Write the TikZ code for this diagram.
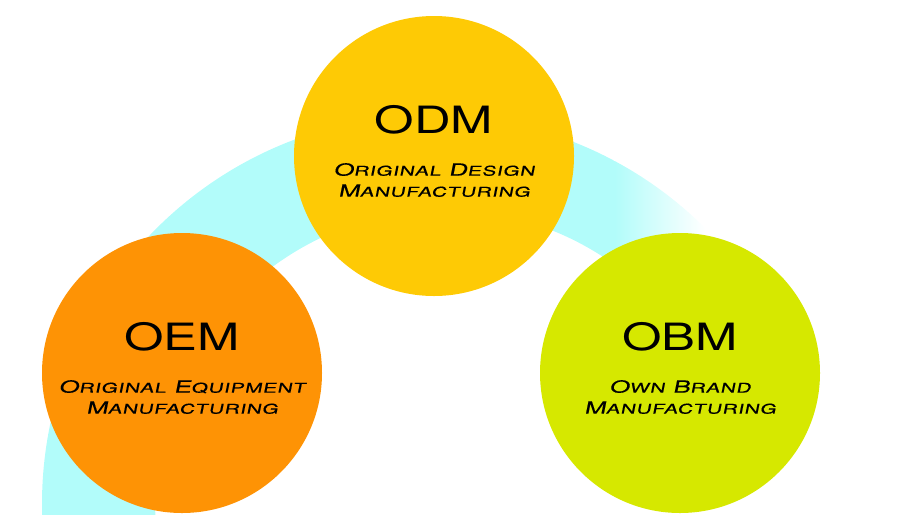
\documentclass[tikz,border=0pt]{standalone}
\usepackage{fontspec}
\usepackage{tikz}
\usetikzlibrary{positioning}
\definecolor{bandcyan}{RGB}{178,252,250}
\definecolor{oemorange}{RGB}{254,147,5}
\definecolor{odmyellow}{RGB}{254,202,5}
\definecolor{obmlime}{RGB}{214,232,0}
\newfontfamily\titlefont[FakeStretch=1.35]{TeX Gyre Heros}
\newfontfamily\subtitlefont[FakeStretch=1.55,FakeSlant=0.2,FakeBold=0.4,LetterSpace=5]{TeX Gyre Heros}
\newcommand{\capword}[2]{#1{\fontsize{13.4}{21}\selectfont #2}}

\begin{document}
\begin{tikzpicture}[x=1pt,y=-1pt,
  bubble/.style={circle,minimum size=280pt,inner sep=0pt},
  bubbletitle/.style={font=\titlefont\fontsize{37.6}{40}\selectfont,inner sep=0pt},
  bubbletext/.style={font=\subtitlefont\fontsize{16.7}{21}\selectfont,align=center,inner sep=0pt}]
\useasboundingbox (0,0) rectangle (915,515);
\clip (0,0) rectangle (915,515);
\pgfmathsetmacro{\titleshift}{36}
\pgfmathsetmacro{\textshift}{24}
\begin{scope}[even odd rule]
\clip (431,504) circle (389pt) (445,500) circle (290pt);
\fill[bandcyan] (0,0) rectangle (615,515);
\shade[left color=bandcyan,right color=white] (615,0) rectangle (705,515);
\end{scope}
\node[bubble,fill=oemorange] (oem) at (182,373) {};
\node[bubble,fill=odmyellow] (odm) at (434,156) {};
\node[bubble,fill=obmlime] (obm) at (680,373) {};
\node[bubbletitle] (oemtitle) at ([yshift=\titleshift pt]oem.center) {OEM};
\node[bubbletext] (oemtext) at ([yshift=-\textshift pt]oem.center) {\capword{O}{RIGINAL} \capword{E}{QUIPMENT}\\\capword{M}{ANUFACTURING}};
\node[bubbletitle] (odmtitle) at ([yshift=\titleshift pt]odm.center) {ODM};
\node[bubbletext] (odmtext) at ([yshift=-\textshift pt]odm.center) {\capword{O}{RIGINAL} \capword{D}{ESIGN}\\\capword{M}{ANUFACTURING}};
\node[bubbletitle] (obmtitle) at ([yshift=\titleshift pt]obm.center) {OBM};
\node[bubbletext] (obmtext) at ([yshift=-\textshift pt]obm.center) {\capword{O}{WN} \capword{B}{RAND}\\\capword{M}{ANUFACTURING}};
\end{tikzpicture}
\end{document}
